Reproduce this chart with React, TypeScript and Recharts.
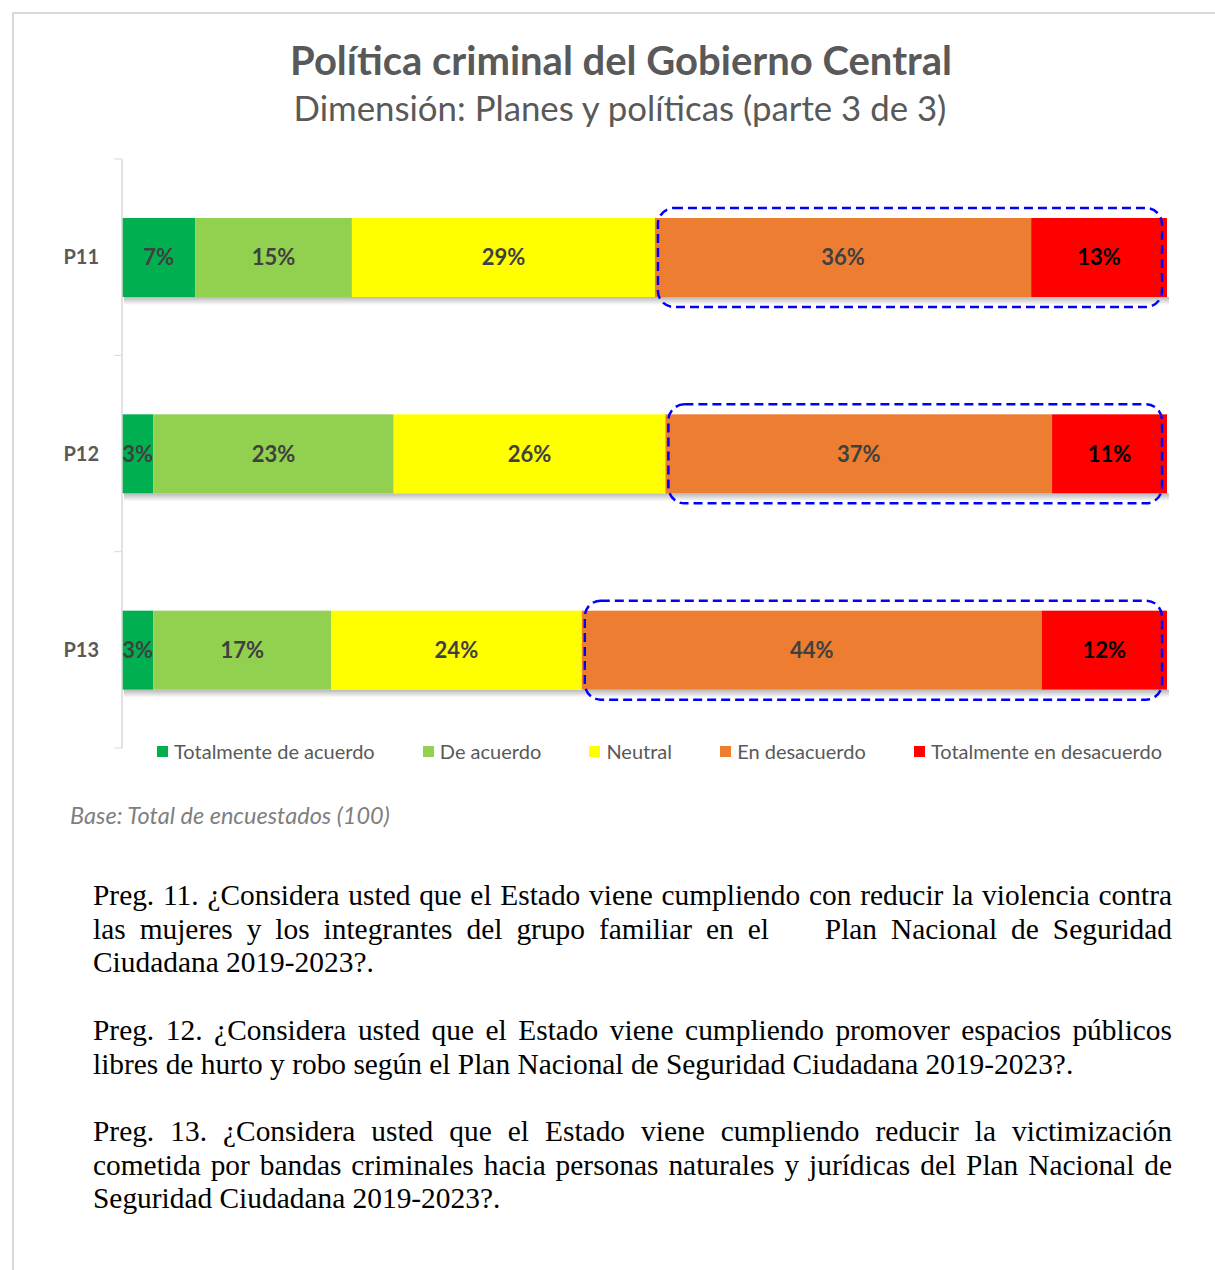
import { BarChart, Bar, XAxis, YAxis, LabelList } from "recharts";

const categories = ["P11", "P12", "P13"];
const totalmenteDeAcuerdo = [7, 3, 3];
const deAcuerdo = [15, 23, 17];
const neutral = [29, 26, 24];
const enDesacuerdo = [36, 37, 44];
const totalmenteEnDesacuerdo = [13, 11, 12];

const seriesKeys = ["tda", "da", "neu", "ed", "ted"];
const seriesNames = [
  "Totalmente de acuerdo",
  "De acuerdo",
  "Neutral",
  "En desacuerdo",
  "Totalmente en desacuerdo",
];
const seriesColors = ["#00B050", "#92D050", "#FFFF00", "#ED7D31", "#FF0000"];
const labelColors = ["#404040", "#404040", "#404040", "#404040", "#000000"];

const preguntas = [
  [
    "Preg. 11. ¿Considera usted que el Estado viene cumpliendo con reducir la violencia contra",
    "las mujeres y los integrantes del grupo familiar en el \u00a0\u00a0 Plan Nacional de Seguridad",
    "Ciudadana 2019-2023?.",
  ],
  [
    "Preg. 12. ¿Considera usted que el Estado viene cumpliendo promover espacios públicos",
    "libres de hurto y robo según el Plan Nacional de Seguridad Ciudadana 2019-2023?.",
  ],
  [
    "Preg. 13. ¿Considera usted que el Estado viene cumpliendo reducir la victimización",
    "cometida por bandas criminales hacia personas naturales y jurídicas del Plan Nacional de",
    "Seguridad Ciudadana 2019-2023?.",
  ],
];

const data = categories.map((cat, i) => ({
  cat,
  tda: totalmenteDeAcuerdo[i],
  da: deAcuerdo[i],
  neu: neutral[i],
  ed: enDesacuerdo[i],
  ted: totalmenteEnDesacuerdo[i],
}));

const CHART_W = 1215;
const CHART_H = 790;
const M = { top: 159, right: 48, left: 60, bottom: 42 };
const PLOT_LEFT = 122;
const HALF_BAND = (CHART_H - M.top - M.bottom) / categories.length / 2;
const SANS = "Lato, 'Open Sans', sans-serif";

const makeShape = (color: string, withBox: boolean) => (props: any) => {
  const { x, y, width, height, payload } = props;
  if (!width || width <= 0) return <g />;
  let box = null;
  if (withBox) {
    const perUnit = width / payload.ted;
    const start = x - payload.ed * perUnit;
    box = (
      <rect
        x={start + 3}
        y={y - 10}
        width={x + width - 5 - (start + 3)}
        height={height + 20}
        rx={16}
        ry={16}
        fill="none"
        stroke="#0000FF"
        strokeWidth={2.5}
        strokeDasharray="9 5"
      />
    );
  }
  return (
    <g>
      <rect x={x + 2} y={y + height} width={width} height={8} fill="url(#barShadow)" />
      <rect x={x} y={y} width={width} height={height} fill={color} />
      {box}
    </g>
  );
};

const CatTick = (props: any) => {
  const { y, payload, index } = props;
  return (
    <g>
      <line x1={PLOT_LEFT - 8} x2={PLOT_LEFT} y1={y - HALF_BAND} y2={y - HALF_BAND} stroke="#d9d9d9" />
      {index === categories.length - 1 && (
        <line x1={PLOT_LEFT - 8} x2={PLOT_LEFT} y1={y + HALF_BAND} y2={y + HALF_BAND} stroke="#d9d9d9" />
      )}
      <text
        x={PLOT_LEFT - 23}
        y={y}
        dy={7}
        textAnchor="end"
        fill="#595959"
        fontFamily={SANS}
        fontWeight={700}
        fontSize={20}
      >
        {payload.value}
      </text>
    </g>
  );
};

export default function App() {
  return (
    <div style={{ position: "absolute", left: 0, top: 0, width: 1215, height: 1270, background: "#fff", overflow: "hidden" }}>
      <svg width={0} height={0} style={{ position: "absolute" }}>
        <defs>
          <linearGradient id="barShadow" x1="0" y1="0" x2="0" y2="1">
            <stop offset="0%" stopColor="#000" stopOpacity={0.28} />
            <stop offset="100%" stopColor="#000" stopOpacity={0} />
          </linearGradient>
        </defs>
      </svg>
      <div
        style={{
          position: "absolute", left: 12, top: 12, width: 1210, height: 1270,
          borderTop: "2px solid #d9d9d9", borderLeft: "2px solid #d9d9d9",
        }}
      />
      <div style={{ position: "absolute", left: 0, top: 0 }}>
        <BarChart width={CHART_W} height={CHART_H} data={data} layout="vertical" margin={M}>
          <XAxis type="number" domain={[0, 100]} hide />
          <YAxis
            type="category"
            dataKey="cat"
            width={62}
            axisLine={{ stroke: "#d9d9d9", strokeWidth: 1.5 }}
            tickLine={false}
            tick={<CatTick />}
          />
          {seriesKeys.map((k, i) => (
            <Bar
              key={k}
              dataKey={k}
              name={seriesNames[i]}
              stackId="a"
              fill={seriesColors[i]}
              barSize={79}
              isAnimationActive={false}
              shape={makeShape(seriesColors[i], k === "ted")}
            >
              <LabelList
                dataKey={k}
                position="center"
                formatter={(v: any) => `${v}%`}
                fill={labelColors[i]}
                fontFamily={SANS}
                fontWeight={700}
                fontSize={22}
              />
            </Bar>
          ))}
        </BarChart>
      </div>
      <div
        style={{
          position: "absolute", left: 0, width: 1242, top: 36, textAlign: "center",
          fontFamily: SANS, fontWeight: 700, fontSize: 40, color: "#595959", lineHeight: "48px",
        }}
      >
        Política criminal del Gobierno Central
      </div>
      <div
        style={{
          position: "absolute", left: 0, width: 1240, top: 87, textAlign: "center",
          fontFamily: SANS, fontSize: 34.8, color: "#595959", lineHeight: "42px",
        }}
      >
        Dimensión: Planes y políticas (parte 3 de 3)
      </div>
      <div
        style={{
          position: "absolute", left: 157, width: 1005, top: 739, display: "flex",
          justifyContent: "space-between", fontFamily: SANS, fontSize: 20, color: "#595959", lineHeight: "24px",
        }}
      >
        {seriesNames.map((n, i) => (
          <div key={n} style={{ display: "flex", alignItems: "center" }}>
            <span style={{ width: 11, height: 11, background: seriesColors[i], marginRight: 6, display: "inline-block" }} />
            {n}
          </div>
        ))}
      </div>
      <div
        style={{
          position: "absolute", left: 70, top: 801, fontFamily: SANS, fontStyle: "italic",
          fontSize: 23.5, color: "#7f7f7f", lineHeight: "28px",
        }}
      >
        Base: Total de encuestados (100)
      </div>
      <div
        style={{
          position: "absolute", left: 93, width: 1079, top: 879, fontFamily: "'Liberation Serif', 'Times New Roman', serif",
          fontSize: 29.4, lineHeight: "33.7px", color: "#000",
        }}
      >
        {preguntas.map((lines, p) => (
          <div key={p} style={{ marginBottom: p < preguntas.length - 1 ? 33.7 : 0 }}>
            {lines.map((ln, j) => (
              <div
                key={j}
                style={{
                  textAlign: "justify",
                  textAlignLast: j < lines.length - 1 ? "justify" : "left",
                  whiteSpace: "pre-wrap",
                }}
              >
                {ln}
              </div>
            ))}
          </div>
        ))}
      </div>
    </div>
  );
}
